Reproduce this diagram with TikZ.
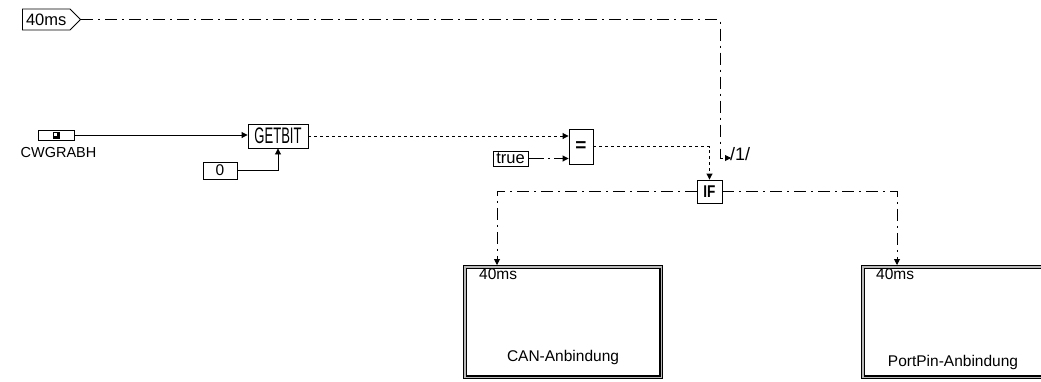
\documentclass[tikz,border=0pt]{standalone}
\usepackage{fontspec}
\setmainfont{Liberation Sans}
\newfontfamily\condfont[FakeStretch=0.58]{Liberation Sans}
\newfontfamily\ifont[FakeStretch=0.8]{Liberation Sans}
\usetikzlibrary{arrows.meta,shapes.symbols}
\begin{document}
\begin{tikzpicture}[x=1pt,y=-1pt,
  font=\fontsize{15.5}{18}\selectfont,
  lw/.style={line width=0.9pt},
  blk/.style={draw, line width=0.9pt, inner sep=0pt, rectangle},
  arr/.style={-{Triangle[length=6pt,width=6pt]}},
  dd/.style={dash pattern=on 12pt off 5pt on 2pt off 5pt},
  dt/.style={dash pattern=on 3pt off 3pt},
  task/.style={draw=black, line width=3.6pt, postaction={draw=gray!55, line width=1.4pt},
    minimum width=196.4pt, minimum height=110.4pt, inner sep=0pt, rectangle},
]
\clip (0,0) rectangle (1041,381);

% input tag
\node[signal, signal to=east, draw, lw, minimum width=58pt, minimum height=21pt,
  inner sep=0pt, anchor=west, font=\fontsize{16.5}{18}\selectfont] (tag) at (22,19.5) {40ms};

% CWGRABH source
\node[blk, minimum width=36pt, minimum height=10pt] (cwg) at (56,135) {};
\fill (52.5,131.5) rectangle (59.5,138.5);
\fill[white] (53.7,132.7) rectangle (57.3,136.3);
\node[font=\fontsize{14.5}{16}\selectfont] (cwglbl) at (58.5,152.5) {CWGRABH};

% blocks
\node[blk, minimum width=60pt, minimum height=24pt, font=\condfont\fontsize{22.5}{23}\selectfont] (getbit) at (278,136) {GETBIT};
\node[blk, minimum width=34pt, minimum height=17pt] (zero) at (220,170.5) {0};
\node[blk, minimum width=35pt, minimum height=15pt, font=\fontsize{16.5}{18}\selectfont] (true) at (510.5,158.5) {true};
\node[blk, minimum width=24pt, minimum height=35pt, font=\bfseries\fontsize{19}{19}\selectfont] (eq) at (581,146.5) {=};
\node[blk, minimum width=25pt, minimum height=23pt, font=\ifont\bfseries\fontsize{17}{17}\selectfont] (if) at (709.5,191.5) {IF};

% task boxes
\node[task] (can) at (563,322) {};
\node[task] (pp) at (961,322) {};
\node[anchor=west, inner sep=0pt] (canT) at ([xshift=16pt,yshift=-9pt]can.north west) {40ms};
\node (canN) at ([yshift=22pt]can.south) {CAN-Anbindung};
\node[anchor=west, inner sep=0pt] (ppT) at ([xshift=15pt,yshift=-9pt]pp.north west) {40ms};
\node (ppN) at ([xshift=-8pt,yshift=17pt]pp.south) {PortPin-Anbindung};

% trigger 1
\coordinate (d1) at (731,158);
\draw[lw,dd,arr] (tag.east) -| ([xshift=-11pt]d1) -- (d1);
\node[anchor=base west, inner sep=0pt, font=\fontsize{18}{20}\selectfont] (one) at (730,160) {/1/};

% connectors
\draw[lw,arr] (cwg.east) -- (cwg.east -| getbit.west);
\draw[lw,arr] (zero.east) -| (getbit.south);
\draw[lw,dt,arr] (getbit.east) -- (getbit.east -| eq.west);
\draw[lw,arr,dash pattern=on 16pt off 4pt on 2pt off 4pt] (true.east) -- (true.east -| eq.west);
\draw[lw,dt,arr] (eq.east) -| (if.north);
\draw[lw,dd,arr] (if.west) -| ([xshift=34pt]can.north west);
\draw[lw,dd,arr] (if.east) -| ([xshift=36pt]pp.north west);
\end{tikzpicture}
\end{document}
